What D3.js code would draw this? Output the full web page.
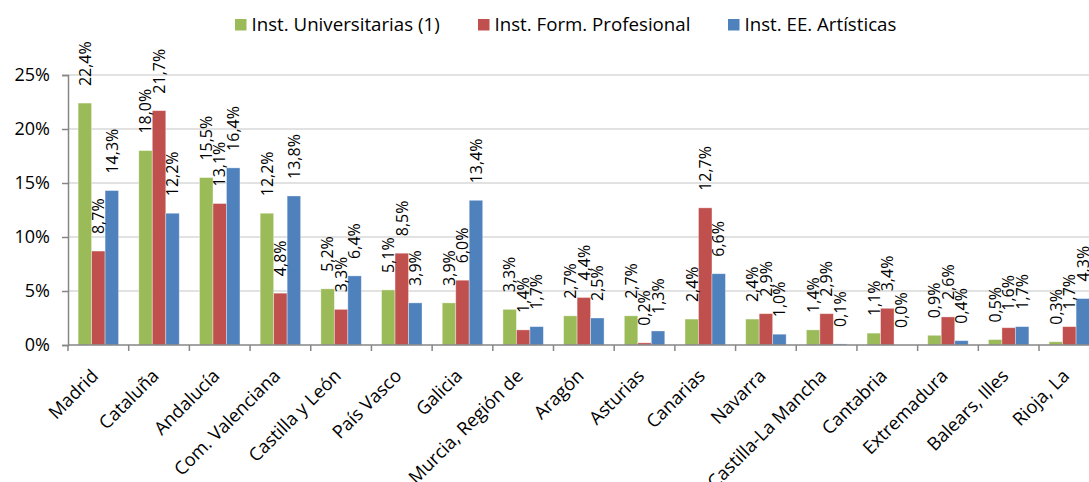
<!DOCTYPE html>
<html>
<head>
<meta charset="utf-8">
<script src="https://cdn.jsdelivr.net/npm/d3@7/dist/d3.min.js"></script>
<style>
  html, body { margin: 0; padding: 0; background: #fff; overflow: hidden; }
  text { font-family: "Open Sans", sans-serif; fill: #000; }
</style>
</head>
<body>
<svg id="chart" width="1089" height="482"></svg>
<script>
const categories = ["Madrid", "Cataluña", "Andalucía", "Com. Valenciana", "Castilla y León", "País Vasco", "Galicia", "Murcia, Región de", "Aragón", "Asturias", "Canarias", "Navarra", "Castilla-La Mancha", "Cantabria", "Extremadura", "Balears, Illes", "Rioja, La"];
const seriesNames = ["Inst. Universitarias (1)", "Inst. Form. Profesional", "Inst. EE. Artísticas"];
const universitarias = [22.4, 18.0, 15.5, 12.2, 5.2, 5.1, 3.9, 3.3, 2.7, 2.7, 2.4, 2.4, 1.4, 1.1, 0.9, 0.5, 0.3];
const formProfesional = [8.7, 21.7, 13.1, 4.8, 3.3, 8.5, 6.0, 1.4, 4.4, 0.2, 12.7, 2.9, 2.9, 3.4, 2.6, 1.6, 1.7];
const eeArtisticas = [14.3, 12.2, 16.4, 13.8, 6.4, 3.9, 13.4, 1.7, 2.5, 1.3, 6.6, 1.0, 0.1, 0.0, 0.4, 1.7, 4.3];
const yTicks = [0, 5, 10, 15, 20, 25];
const colors = ["#9BBB59", "#C0504D", "#4F81BD"];

const seriesValues = [universitarias, formProfesional, eeArtisticas];
const svg = d3.select("#chart");

const plotLeft = 68, plotRight = 1099.7, plotTop = 75, plotBottom = 345;

const x = d3.scaleBand().domain(categories).range([plotLeft, plotRight]).paddingInner(1/3).paddingOuter(1/6);
const xs = d3.scaleBand().domain(d3.range(seriesNames.length)).range([0, x.bandwidth()]);
const y = d3.scaleLinear().domain([0, 25]).range([plotBottom, plotTop]);

const loc = d3.formatLocale({decimal: ",", thousands: ".", grouping: [3], currency: ["", "€"]});
const fmt = loc.format(".1f");

// gridlines
svg.append("g").selectAll("line").data(yTicks.filter(d => d > 0)).join("line")
  .attr("x1", plotLeft).attr("x2", 1089)
  .attr("y1", d => y(d)).attr("y2", d => y(d))
  .attr("stroke", "#d9d9d9").attr("stroke-width", 1.5);

// bars
const rows = categories.map((c, i) => ({c, vals: seriesValues.map(s => s[i])}));
const groups = svg.append("g").selectAll("g").data(rows).join("g")
  .attr("transform", d => `translate(${x(d.c)},0)`);

groups.selectAll("rect").data(d => d.vals.map((v, k) => ({v, k}))).join("rect")
  .attr("x", d => xs(d.k)).attr("width", xs.bandwidth())
  .attr("y", d => y(d.v)).attr("height", d => y(0) - y(d.v))
  .attr("fill", d => colors[d.k])
  .attr("stroke", "rgba(255,255,255,0.45)").attr("stroke-width", 0.8);

// axes
const yAxis = d3.axisLeft(y).tickValues(yTicks).tickSize(6).tickFormat(d => d + "%");
const yg = svg.append("g").attr("transform", `translate(${plotLeft},0)`).call(yAxis);
yg.select(".domain").attr("stroke", "#868686").attr("stroke-width", 1.5);
yg.selectAll(".tick line").attr("stroke", "#868686").attr("stroke-width", 1.5);
yg.selectAll(".tick text").attr("x", -18).attr("font-size", 18).attr("font-family", "Open Sans").attr("fill", "#000");

// x axis line and boundary ticks
svg.append("line").attr("x1", plotLeft).attr("x2", 1089).attr("y1", plotBottom).attr("y2", plotBottom)
  .attr("stroke", "#868686").attr("stroke-width", 1.5);
const step = x.step();
svg.append("g").selectAll("line").data(d3.range(categories.length + 1)).join("line")
  .attr("x1", i => plotLeft + i * step).attr("x2", i => plotLeft + i * step)
  .attr("y1", plotBottom).attr("y2", plotBottom + 6)
  .attr("stroke", "#868686").attr("stroke-width", 1.5);

// x labels
svg.append("g").selectAll("text").data(categories).join("text")
  .attr("transform", d => `translate(${x(d) + x.bandwidth() / 2 + 1},377) rotate(-45)`)
  .attr("text-anchor", "end").attr("font-size", 18.3)
  .text(d => d);

// value labels
groups.selectAll("text").data(d => d.vals.map((v, k) => ({v, k}))).join("text")
  .attr("transform", d => `translate(${xs(d.k) + xs.bandwidth() / 2},${y(d.v) - 17}) rotate(-90)`)
  .attr("dy", "0.36em").attr("font-size", 16)
  .text(d => fmt(d.v) + "%");

// legend
const legendX = [235, 478, 728];
const lg = svg.append("g").selectAll("g").data(seriesNames).join("g")
  .attr("transform", (d, i) => `translate(${legendX[i]},19)`);
lg.append("rect").attr("width", 11.5).attr("height", 11.5).attr("fill", (d, i) => colors[i]);
lg.append("text").attr("x", 16.5).attr("y", 12).attr("font-size", 18.7).text(d => d);
</script>
</body>
</html>
